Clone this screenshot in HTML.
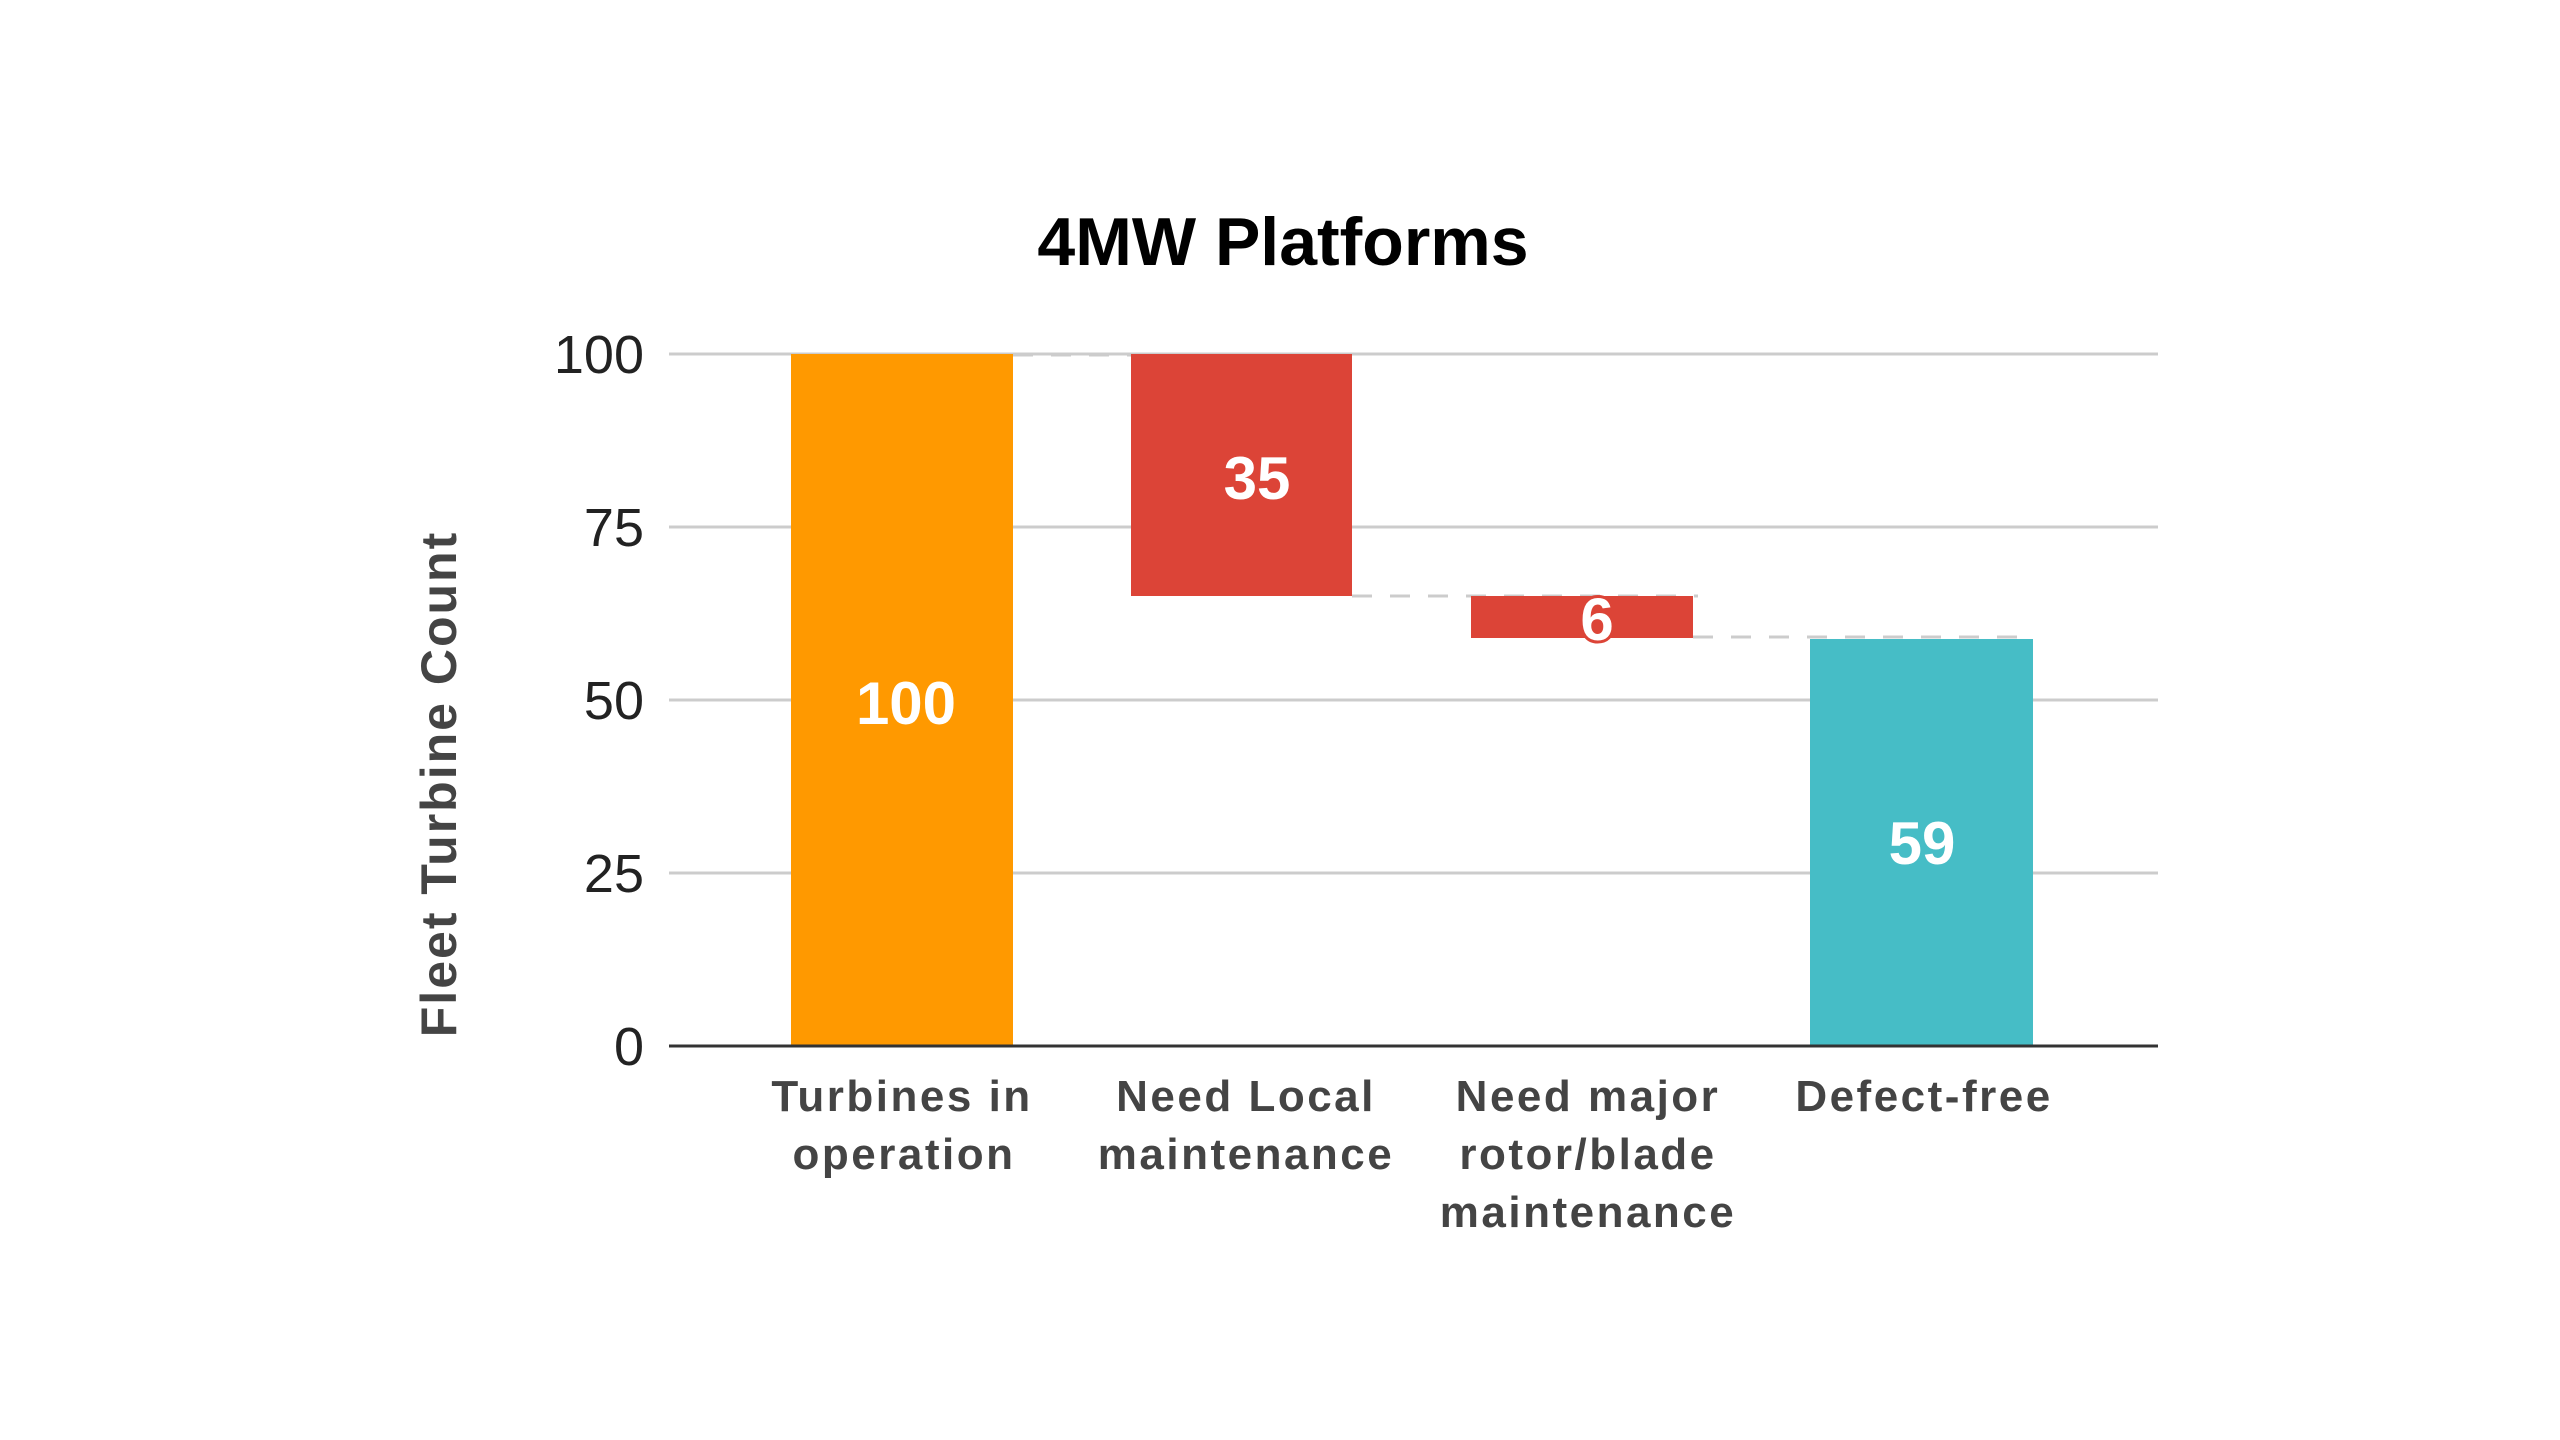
<!DOCTYPE html>
<html><head><meta charset="utf-8"><style>
html,body{margin:0;padding:0;background:#fff;width:2560px;height:1440px;overflow:hidden}
svg{display:block}
text{font-family:"Liberation Sans",Arial,sans-serif}
</style></head><body>
<svg width="2560" height="1440" viewBox="0 0 2560 1440">
<rect width="2560" height="1440" fill="#fff"/>
<text x="1283" y="265" text-anchor="middle" font-size="68" font-weight="bold" fill="#000">4MW Platforms</text>
<g stroke="#cccccc" stroke-width="3">
<line x1="669" y1="354" x2="2158" y2="354"/>
<line x1="669" y1="527" x2="2158" y2="527"/>
<line x1="669" y1="700" x2="2158" y2="700"/>
<line x1="669" y1="873" x2="2158" y2="873"/>
</g>
<g stroke="#cccccc" stroke-width="3" stroke-dasharray="20,18">
<line x1="1013" y1="355" x2="1131" y2="355"/>
<line x1="1352" y1="596" x2="1698" y2="596"/>
<line x1="1693" y1="637" x2="2030" y2="637"/>
</g>
<rect x="791" y="354" width="222" height="692" fill="#ff9900"/>
<rect x="1131" y="354" width="221" height="242" fill="#dc4437"/>
<rect x="1471" y="596" width="222" height="42" fill="#dc4437"/>
<rect x="1810" y="639" width="223" height="407" fill="#46bdc6"/>
<line x1="669" y1="1046" x2="2158" y2="1046" stroke="#333" stroke-width="3"/>
<g font-size="54" fill="#222" text-anchor="end">
<text x="644" y="373">100</text>
<text x="644" y="546">75</text>
<text x="644" y="719">50</text>
<text x="644" y="892">25</text>
<text x="644" y="1065">0</text>
</g>
<text transform="translate(456,784) rotate(-90)" text-anchor="middle" font-size="50" font-weight="bold" fill="#444" letter-spacing="2">Fleet Turbine Count</text>
<g font-size="60" font-weight="bold" fill="#fff" text-anchor="middle">
<text x="906" y="724">100</text>
<text x="1257" y="499">35</text>
<text x="1597" y="640" stroke="#dc4437" stroke-width="6" paint-order="stroke">6</text>
<text x="1922" y="864">59</text>
</g>
<g font-size="44" font-weight="bold" fill="#444" text-anchor="middle" letter-spacing="2.5">
<text x="902" y="1111">Turbines in</text>
<text x="904" y="1169">operation</text>
<text x="1246" y="1111">Need Local</text>
<text x="1246" y="1169">maintenance</text>
<text x="1588" y="1111">Need major</text>
<text x="1588" y="1169">rotor/blade</text>
<text x="1588" y="1227">maintenance</text>
<text x="1924" y="1111">Defect-free</text>
</g>
</svg>
</body></html>
